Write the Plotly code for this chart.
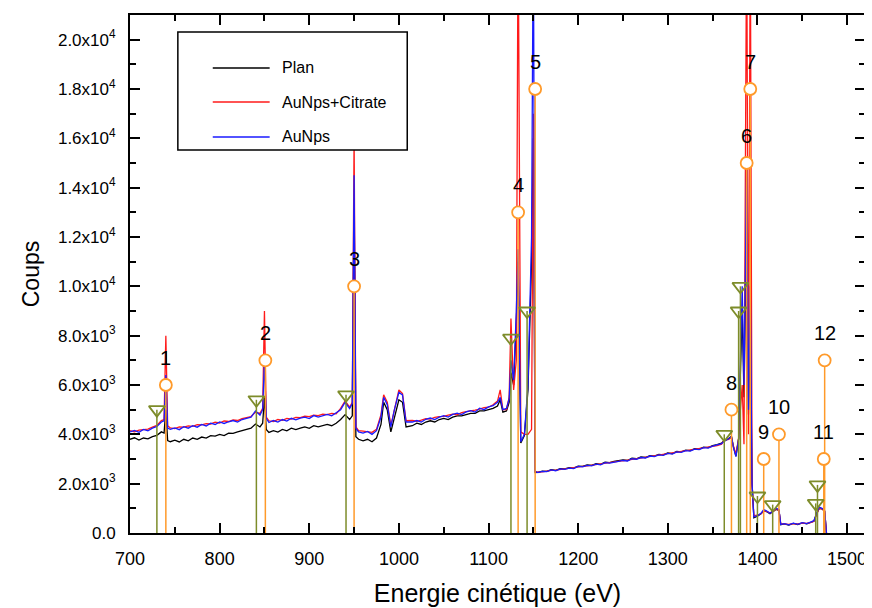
import plotly.graph_objects as go

# ---------------- data ----------------
energy = [
    700, 705, 710, 715, 720, 725, 730, 735,
    738, 740, 742,
    745, 750, 755, 760, 765, 770, 775, 780, 785, 790,
    795, 800, 805, 810, 815, 820, 825, 830, 835, 840, 845,
    848, 850, 852,
    855, 860, 865, 870, 875, 880, 885, 890, 895, 900,
    905, 910, 915, 920, 925, 930, 935,
    940, 945,
    948, 950, 952,
    955, 960, 965, 970, 975,
    980, 983, 987, 991, 995, 1000, 1004, 1008,
    1015, 1020, 1025, 1030, 1035, 1040, 1045, 1050, 1055, 1060,
    1065, 1070, 1075, 1080, 1085, 1090, 1095, 1100, 1105, 1110,
    1113, 1116, 1120, 1123, 1125, 1128, 1131, 1133, 1136, 1140, 1144, 1148, 1150, 1152,
    1155, 1160, 1165, 1170, 1175, 1180, 1185, 1190, 1195, 1200,
    1205, 1210, 1215, 1220, 1225, 1230, 1235, 1240, 1245, 1250,
    1255, 1260, 1265, 1270, 1275, 1280, 1285, 1290, 1295, 1300,
    1305, 1310, 1315, 1320, 1325, 1330, 1335, 1340, 1345, 1350,
    1355, 1360,
    1362, 1365, 1368, 1371, 1373, 1376, 1379, 1381, 1383, 1385, 1388, 1390, 1392, 1394, 1396,
    1400, 1404, 1407, 1410, 1414, 1418, 1421, 1424, 1426, 1430,
    1435, 1440, 1445, 1450, 1455, 1460, 1463, 1466, 1469, 1472, 1475, 1477,
]

plan = [
    3800, 3860, 3770, 3850, 3820, 3910, 3960, 4100,
    4050, 5000, 3750,
    3700, 3760, 3690, 3800, 3740, 3850, 3800, 3890, 3850, 3950,
    3930, 4000, 3950, 4050, 4040, 4100, 4150, 4200, 4250, 4420, 4300,
    4450, 5500, 4200,
    4080, 4150, 4090, 4200, 4140, 4250, 4190, 4250, 4300, 4240,
    4350, 4300, 4350, 4400, 4350, 4450, 4600,
    4800, 4600,
    4750, 13500, 3900,
    3800, 3740, 3800, 3700, 3850,
    4400, 5300, 5000, 4100, 4700, 5400, 5300, 4300,
    4350, 4450, 4400, 4500, 4550, 4500, 4600, 4650, 4600, 4700,
    4750, 4750, 4800, 4850, 4850, 4950, 4950, 5000, 5050, 5150,
    5400, 4900, 4950, 5300, 6500, 6000, 8500, 11000, 3650, 3950, 5800, 11000, 16000, 2450,
    2460, 2510, 2500, 2570, 2540, 2610, 2600, 2650, 2630, 2710,
    2700, 2760, 2740, 2810, 2780, 2870, 2850, 2900, 2920, 2960,
    2940, 3030, 3010, 3080, 3060, 3140, 3120, 3190, 3170, 3250,
    3220, 3310, 3290, 3360, 3340, 3420, 3400, 3480, 3460, 3540,
    3580, 3640,
    3720, 3760, 3830, 3920, 3520, 3120, 3820, 6500, 9000, 5500, 13000, 4800, 8000, 2000, 620,
    680, 780, 900, 870, 780, 880, 960, 920, 340, 370,
    320, 390, 340, 410, 370, 440, 480, 780, 1000, 980, 880, 0,
]

aunps_citrate = [
    4150, 4100, 4170, 4190, 4210, 4290, 4360, 4560,
    4600, 8000, 4350,
    4260, 4230, 4300, 4290, 4340, 4320, 4390, 4380, 4430, 4420,
    4490, 4460, 4540, 4520, 4580, 4560, 4640, 4680, 4720, 4900, 4850,
    5050, 9000, 4700,
    4550, 4520, 4600, 4570, 4650, 4620, 4690, 4680, 4740, 4720,
    4780, 4760, 4820, 4800, 4850, 4830, 5050,
    5350, 5100,
    5300, 16000, 4300,
    4150, 4130, 4100, 4080, 4200,
    4800, 5600, 5300, 4350, 5050, 5800, 5650, 4550,
    4560, 4530, 4580, 4640, 4620, 4690, 4720, 4730, 4780, 4820,
    4790, 4880, 4920, 4940, 4980, 5020, 5080, 5100, 5200, 5350,
    5800, 5000, 5000, 5500, 8700, 5800, 7000, 25000, 4100, 4000, 4000, 4200, 17000, 2500,
    2470, 2480, 2520, 2540, 2550, 2580, 2600, 2620, 2650, 2680,
    2700, 2720, 2750, 2770, 2790, 2830, 2850, 2870, 2910, 2930,
    2950, 2980, 3010, 3040, 3060, 3090, 3120, 3150, 3170, 3200,
    3220, 3260, 3290, 3310, 3340, 3370, 3400, 3430, 3460, 3490,
    3540, 3600,
    3720, 3780, 3800, 3880, 3550, 3200, 3850, 5000, 6000, 3600, 25000, 4000, 25000, 2000, 700,
    720, 780, 900, 880, 820, 880, 980, 920, 380, 360,
    350, 380, 370, 400, 390, 430, 480, 750, 1000, 980, 880, 0,
]

aunps = [
    4100, 4160, 4080, 4200, 4140, 4250, 4320, 4500,
    4550, 6400, 4250,
    4200, 4260, 4190, 4310, 4250, 4350, 4290, 4400, 4340, 4450,
    4400, 4500, 4440, 4510, 4560, 4500, 4600, 4650, 4700, 4950, 4780,
    5000, 7000, 4650,
    4480, 4560, 4500, 4600, 4540, 4650, 4590, 4660, 4700, 4640,
    4760, 4700, 4760, 4810, 4750, 4860, 5000,
    5300, 5050,
    5250, 14500, 4250,
    4100, 4050, 4120, 4000, 4150,
    4700, 5500, 5200, 4300, 5000, 5700, 5600, 4500,
    4500, 4560, 4500, 4610, 4660, 4600, 4700, 4760, 4700, 4810,
    4860, 4800, 4910, 4960, 4900, 5060, 5000, 5110, 5160, 5300,
    5500, 5000, 5050, 5450, 7000, 6200, 9000, 11500, 3700, 4000, 6000, 12000, 25000, 2500,
    2450, 2500, 2490, 2560, 2520, 2600, 2580, 2630, 2610, 2700,
    2680, 2740, 2720, 2790, 2760, 2850, 2830, 2880, 2900, 2940,
    2920, 3010, 2990, 3060, 3040, 3120, 3100, 3170, 3150, 3230,
    3200, 3290, 3270, 3340, 3320, 3400, 3380, 3460, 3440, 3520,
    3560, 3620,
    3700, 3750, 3820, 3900, 3500, 3100, 3800, 7000, 10000, 6000, 15000, 5000, 10000, 2000, 650,
    700, 800, 950, 900, 800, 900, 1000, 950, 350, 380,
    330, 400, 350, 420, 380, 450, 500, 800, 1050, 1000, 900, 0,
]

series_names = ["Plan", "AuNps+Citrate", "AuNps"]

# numbered peaks (orange circles)
peak_energy = [740, 851, 950, 1133, 1152, 1388, 1392, 1371, 1407, 1424, 1474, 1475]
peak_counts = [6000, 7000, 10000, 13000, 18000, 15000, 18000, 5000, 3000, 4000, 3000, 7000]
peak_labels = ["1", "2", "3", "4", "5", "6", "7", "8", "9", "10", "11", "12"]

# reference lines (olive triangles)
ref_energy = [730, 841, 941, 1125, 1143, 1363, 1379, 1381, 1400, 1417, 1465, 1467]
ref_counts = [5000, 5400, 5600, 7900, 9000, 4000, 9000, 10000, 1500, 1150, 1200, 1950]

y_tickvals = [0, 2000, 4000, 6000, 8000, 10000, 12000, 14000, 16000, 18000, 20000]
y_ticktext = ["0.0", "2.0x10<sup>3</sup>", "4.0x10<sup>3</sup>", "6.0x10<sup>3</sup>",
              "8.0x10<sup>3</sup>", "1.0x10<sup>4</sup>", "1.2x10<sup>4</sup>",
              "1.4x10<sup>4</sup>", "1.6x10<sup>4</sup>", "1.8x10<sup>4</sup>",
              "2.0x10<sup>4</sup>"]

assert len(energy) == len(plan) == len(aunps_citrate) == len(aunps), (
    len(energy), len(plan), len(aunps_citrate), len(aunps))

# ---------------- styling ----------------
FONT = "Liberation Sans, Arial, sans-serif"
series_colors = ["#000000", "#ff1a1a", "#1a1aff"]
ORANGE = "#ff9a2a"
OLIVE = "#7d8c2a"

fig = go.Figure()

for name, vals, col in zip(series_names, [plan, aunps_citrate, aunps], series_colors):
    fig.add_trace(go.Scatter(x=energy, y=vals, mode="lines", name=name,
                             line=dict(color=col, width=1.3), showlegend=False))


def stems(xs, ys):
    sx, sy = [], []
    for x, y in zip(xs, ys):
        sx += [x, x, None]
        sy += [0, y, None]
    return sx, sy


sx, sy = stems(ref_energy, ref_counts)
fig.add_trace(go.Scatter(x=sx, y=sy, mode="lines", line=dict(color=OLIVE, width=1.5),
                         showlegend=False, hoverinfo="skip"))
sx, sy = stems(peak_energy, peak_counts)
fig.add_trace(go.Scatter(x=sx, y=sy, mode="lines", line=dict(color=ORANGE, width=1.5),
                         showlegend=False, hoverinfo="skip"))

fig.add_trace(go.Scatter(x=ref_energy, y=ref_counts, mode="markers", showlegend=False,
                         marker=dict(symbol="triangle-down-open", size=14,
                                     color=OLIVE, line=dict(color=OLIVE, width=1.8))))
fig.add_trace(go.Scatter(x=peak_energy, y=peak_counts, mode="markers", showlegend=False,
                         marker=dict(symbol="circle", size=12, color="white",
                                     line=dict(color=ORANGE, width=1.8))))

annotations = []
for x, y, t in zip(peak_energy, peak_counts, peak_labels):
    annotations.append(dict(x=x, y=y, text=t, showarrow=False, yshift=27,
                            font=dict(family=FONT, size=20, color="black")))

# manual legend (paper coordinates)
shapes = [dict(type="rect", xref="paper", yref="paper", x0=0.0651, x1=0.3772,
               y0=0.7394, y1=0.9672, line=dict(color="black", width=1.5),
               fillcolor="white", layer="above")]
leg_y = [0.8977, 0.8320, 0.7645]
for name, col, yy in zip(series_names, series_colors, leg_y):
    shapes.append(dict(type="line", xref="paper", yref="paper", x0=0.1126, x1=0.1900,
                       y0=yy, y1=yy, line=dict(color=col, width=1.3), layer="above"))
    annotations.append(dict(xref="paper", yref="paper", x=0.2035, y=yy, text=name,
                            showarrow=False, xanchor="left", yanchor="middle",
                            font=dict(family=FONT, size=16, color="black")))

axis_common = dict(showline=True, linewidth=2, linecolor="black", mirror="allticks",
                   ticks="inside", ticklen=10, tickwidth=2, tickcolor="black",
                   showgrid=False, zeroline=False)

# the page body adds an 8px margin, so the figure is sized to fit the window
fig.update_layout(
    width=864, height=600,
    margin=dict(l=122, r=5, t=7, b=75),
    paper_bgcolor="white", plot_bgcolor="white",
    font=dict(family=FONT, color="black"),
    xaxis=dict(range=[700, 1520], tick0=700, dtick=100,
               tickfont=dict(family=FONT, size=18),
               ticklabelstandoff=8,
               minor=dict(ticks="inside", ticklen=6, tickwidth=2, dtick=50, tick0=700,
                          tickcolor="black", showgrid=False),
               title=dict(text="Energie cinétique (eV)", font=dict(family=FONT, size=25),
                          standoff=17),
               **axis_common),
    yaxis=dict(range=[0, 21000], tickmode="array", tickvals=y_tickvals, ticktext=y_ticktext,
               tickfont=dict(family=FONT, size=17),
               ticklabelstandoff=9,
               minor=dict(ticks="inside", ticklen=6, tickwidth=2, dtick=1000, tick0=0,
                          tickcolor="black", showgrid=False),
               title=dict(text="Coups", font=dict(family=FONT, size=23), standoff=12),
               **axis_common),
    annotations=annotations,
    shapes=shapes,
    showlegend=False,
)

fig.write_html("out.html")
